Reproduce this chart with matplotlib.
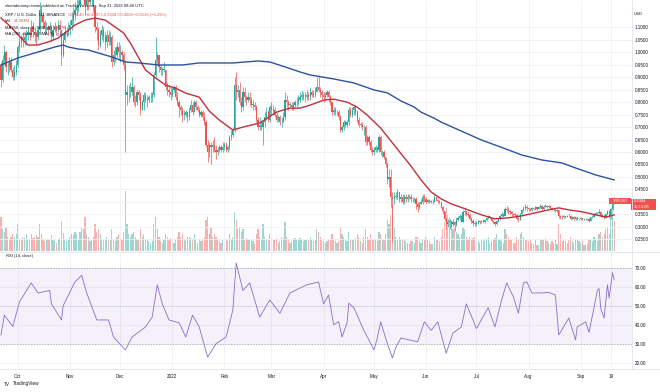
import numpy as np
import pandas as pd
import matplotlib
matplotlib.use("Agg")
import matplotlib.pyplot as plt
from matplotlib.patches import Rectangle

# XRP / U.S. Dollar, 1D candles, 2021-09-20 .. 2022-09-21
first_open = 1.06
close = [
    # Sep 2021 (20th ..)
    0.95, 0.89, 0.97, 1.00, 0.94, 0.94, 0.96, 0.93, 0.90, 0.92, 0.95,
    # Oct
    1.02, 1.04, 1.06, 1.05, 1.06, 1.07, 1.08, 1.07, 1.10, 1.08, 1.07, 1.06, 1.09, 1.17, 1.15, 1.12,
    1.10, 1.10, 1.09, 1.10, 1.06, 1.09, 1.10, 1.09, 1.11, 1.09, 0.99, 1.05, 1.08, 1.08, 1.09,
    # Nov
    1.11, 1.13, 1.15, 1.17, 1.18, 1.19, 1.24, 1.27, 1.25, 1.19, 1.22, 1.20, 1.21, 1.21, 1.18,
    1.10, 1.09, 1.03, 1.07, 1.09, 1.06, 1.04, 1.07, 1.04, 1.06, 0.96, 0.99, 0.99, 1.02, 1.00,
    # Dec
    1.00, 0.99, 0.95, 0.83, 0.84, 0.84, 0.84, 0.86, 0.80, 0.80, 0.84, 0.83, 0.77, 0.80, 0.83, 0.81,
    0.81, 0.82, 0.82, 0.83, 0.91, 0.97, 0.99, 0.94, 0.93, 0.93, 0.93, 0.86, 0.85, 0.84, 0.83,
    # Jan 2022
    0.85, 0.86, 0.82, 0.80, 0.78, 0.77, 0.75, 0.75, 0.76, 0.74, 0.77, 0.79, 0.76, 0.80, 0.78, 0.77,
    0.75, 0.76, 0.74, 0.72, 0.63, 0.60, 0.63, 0.62, 0.63, 0.61, 0.60, 0.61, 0.62, 0.61, 0.62,
    # Feb
    0.63, 0.61, 0.62, 0.66, 0.67, 0.69, 0.87, 0.84, 0.85, 0.80, 0.78, 0.84, 0.82, 0.81,
    0.82, 0.81, 0.79, 0.79, 0.78, 0.73, 0.70, 0.71, 0.70, 0.72, 0.74, 0.76, 0.73, 0.78,
    # Mar
    0.77, 0.77, 0.75, 0.73, 0.74, 0.72, 0.72, 0.74, 0.81, 0.80, 0.79, 0.79, 0.78, 0.79, 0.80, 0.80,
    0.81, 0.82, 0.83, 0.82, 0.82, 0.83, 0.82, 0.84, 0.83, 0.83, 0.84, 0.86, 0.85, 0.84, 0.83,
    # Apr
    0.82, 0.83, 0.84, 0.82, 0.80, 0.76, 0.77, 0.76, 0.76, 0.74, 0.69, 0.70, 0.72, 0.71, 0.72,
    0.77, 0.75, 0.77, 0.78, 0.76, 0.73, 0.71, 0.71, 0.70, 0.70, 0.64, 0.66, 0.64, 0.61, 0.60,
    # May
    0.61, 0.62, 0.61, 0.66, 0.60, 0.60, 0.58, 0.55, 0.49, 0.50, 0.42, 0.41, 0.42, 0.42, 0.44, 0.41,
    0.42, 0.40, 0.42, 0.41, 0.42, 0.42, 0.41, 0.41, 0.41, 0.39, 0.38, 0.39, 0.40, 0.42, 0.41,
    # Jun
    0.398, 0.408, 0.402, 0.399, 0.401, 0.418, 0.409, 0.402, 0.398, 0.381, 0.362, 0.331, 0.312, 0.318, 0.322,
    0.312, 0.321, 0.309, 0.329, 0.334, 0.342, 0.321, 0.358, 0.362, 0.352, 0.348, 0.332, 0.322, 0.315, 0.312,
    # Jul
    0.314, 0.322, 0.318, 0.324, 0.320, 0.326, 0.334, 0.342, 0.335, 0.322, 0.318, 0.310, 0.322, 0.331, 0.342, 0.352,
    0.345, 0.372, 0.368, 0.362, 0.358, 0.352, 0.350, 0.348, 0.331, 0.329, 0.351, 0.368, 0.372, 0.381, 0.375,
    # Aug
    0.372, 0.368, 0.374, 0.370, 0.378, 0.372, 0.380, 0.384, 0.371, 0.381, 0.385, 0.380, 0.383, 0.375, 0.371, 0.369,
    0.362, 0.368, 0.345, 0.341, 0.338, 0.342, 0.340, 0.344, 0.343, 0.333, 0.339, 0.331, 0.338, 0.330, 0.332,
    # Sep
    0.334, 0.331, 0.331, 0.333, 0.331, 0.325, 0.338, 0.341, 0.352, 0.356, 0.354,
    0.361, 0.345, 0.346, 0.336, 0.352, 0.364, 0.343, 0.372, 0.414, 0.4004,
]
high = [
    1.07, 0.96, 0.99, 1.03, 1.01, 0.96, 0.98, 0.98, 0.94, 0.95, 0.97,
    1.03, 1.06, 1.07, 1.08, 1.08, 1.09, 1.10, 1.10, 1.13, 1.12, 1.10, 1.08, 1.10, 1.20, 1.18, 1.16,
    1.13, 1.12, 1.11, 1.12, 1.11, 1.11, 1.12, 1.11, 1.13, 1.13, 1.09, 1.07, 1.11, 1.10, 1.12,
    1.13, 1.16, 1.18, 1.20, 1.22, 1.21, 1.26, 1.30, 1.29, 1.35, 1.24, 1.23, 1.23, 1.24, 1.23,
    1.19, 1.12, 1.10, 1.09, 1.11, 1.10, 1.08, 1.09, 1.09, 1.08, 1.07, 1.01, 1.02, 1.04, 1.04,
    1.03, 1.01, 1.00, 0.97, 0.87, 0.87, 0.88, 0.90, 0.87, 0.83, 0.85, 0.85, 0.84, 0.81, 0.84, 0.84,
    0.83, 0.83, 0.84, 0.84, 0.92, 1.06, 1.00, 0.99, 0.95, 0.94, 0.96, 0.93, 0.88, 0.87, 0.86,
    0.86, 0.87, 0.87, 0.84, 0.81, 0.79, 0.78, 0.77, 0.77, 0.76, 0.78, 0.81, 0.80, 0.81, 0.81, 0.79,
    0.78, 0.77, 0.77, 0.76, 0.73, 0.65, 0.64, 0.64, 0.65, 0.66, 0.63, 0.62, 0.63, 0.63, 0.64,
    0.64, 0.64, 0.63, 0.67, 0.69, 0.70, 0.90, 0.92, 0.87, 0.88, 0.82, 0.86, 0.86, 0.83,
    0.84, 0.84, 0.82, 0.81, 0.80, 0.79, 0.74, 0.74, 0.73, 0.73, 0.76, 0.78, 0.77, 0.79,
    0.80, 0.79, 0.78, 0.76, 0.75, 0.75, 0.74, 0.76, 0.84, 0.83, 0.81, 0.80, 0.80, 0.80, 0.81, 0.82,
    0.83, 0.84, 0.85, 0.84, 0.84, 0.85, 0.84, 0.86, 0.85, 0.85, 0.86, 0.90, 0.91, 0.86, 0.85,
    0.84, 0.84, 0.85, 0.85, 0.83, 0.80, 0.78, 0.78, 0.77, 0.77, 0.75, 0.71, 0.73, 0.73, 0.73,
    0.78, 0.78, 0.78, 0.79, 0.79, 0.77, 0.74, 0.72, 0.72, 0.71, 0.71, 0.67, 0.67, 0.65, 0.62,
    0.62, 0.63, 0.62, 0.67, 0.67, 0.61, 0.61, 0.58, 0.56, 0.53, 0.53, 0.44, 0.44, 0.44, 0.45, 0.44,
    0.43, 0.43, 0.43, 0.43, 0.43, 0.43, 0.43, 0.42, 0.42, 0.42, 0.40, 0.40, 0.41, 0.43, 0.43,
    0.420, 0.412, 0.410, 0.408, 0.410, 0.428, 0.420, 0.412, 0.408, 0.400, 0.384, 0.365, 0.336, 0.330, 0.332,
    0.328, 0.330, 0.322, 0.338, 0.342, 0.350, 0.346, 0.368, 0.378, 0.365, 0.360, 0.356, 0.338, 0.330, 0.322,
    0.322, 0.328, 0.326, 0.328, 0.330, 0.332, 0.338, 0.348, 0.345, 0.336, 0.328, 0.322, 0.326, 0.335, 0.346, 0.358,
    0.356, 0.378, 0.382, 0.378, 0.368, 0.362, 0.356, 0.356, 0.350, 0.338, 0.356, 0.372, 0.382, 0.392, 0.386,
    0.378, 0.375, 0.378, 0.377, 0.384, 0.380, 0.385, 0.392, 0.386, 0.386, 0.392, 0.388, 0.388, 0.386, 0.378, 0.376,
    0.372, 0.372, 0.369, 0.348, 0.346, 0.346, 0.345, 0.349, 0.350, 0.348, 0.342, 0.342, 0.341, 0.341, 0.337,
    0.338, 0.337, 0.335, 0.336, 0.336, 0.334, 0.341, 0.346, 0.356, 0.360, 0.358,
    0.370, 0.365, 0.350, 0.348, 0.355, 0.368, 0.366, 0.376, 0.420, 0.4197,
]
low = [
    0.93, 0.86, 0.88, 0.95, 0.92, 0.91, 0.92, 0.92, 0.89, 0.89, 0.91,
    0.94, 1.00, 1.02, 1.02, 1.03, 1.03, 1.05, 1.05, 1.06, 1.06, 1.04, 1.03, 1.05, 1.08, 1.12, 1.10,
    1.07, 1.08, 1.07, 1.08, 1.04, 1.05, 1.08, 1.07, 1.08, 1.07, 0.95, 0.98, 1.04, 1.06, 1.07,
    1.07, 1.09, 1.11, 1.13, 1.15, 1.16, 1.18, 1.22, 1.21, 1.15, 1.17, 1.17, 1.19, 1.19, 1.16,
    1.08, 1.05, 1.01, 1.02, 1.05, 1.04, 1.01, 1.02, 1.03, 1.03, 0.94, 0.95, 0.96, 0.98, 0.97,
    0.96, 0.97, 0.93, 0.60, 0.79, 0.80, 0.82, 0.83, 0.79, 0.78, 0.79, 0.81, 0.75, 0.77, 0.77, 0.80,
    0.78, 0.80, 0.80, 0.80, 0.82, 0.90, 0.95, 0.92, 0.91, 0.91, 0.92, 0.85, 0.83, 0.82, 0.81,
    0.82, 0.84, 0.81, 0.79, 0.74, 0.75, 0.72, 0.73, 0.74, 0.72, 0.73, 0.76, 0.75, 0.76, 0.77, 0.76,
    0.74, 0.74, 0.73, 0.71, 0.62, 0.56, 0.58, 0.55, 0.60, 0.60, 0.57, 0.59, 0.60, 0.60, 0.60,
    0.61, 0.60, 0.60, 0.61, 0.65, 0.66, 0.68, 0.81, 0.82, 0.79, 0.76, 0.77, 0.80, 0.79,
    0.80, 0.79, 0.78, 0.77, 0.77, 0.72, 0.69, 0.69, 0.69, 0.63, 0.70, 0.73, 0.72, 0.72,
    0.75, 0.75, 0.74, 0.72, 0.72, 0.71, 0.70, 0.72, 0.73, 0.78, 0.77, 0.78, 0.77, 0.77, 0.78, 0.78,
    0.79, 0.80, 0.81, 0.81, 0.80, 0.81, 0.81, 0.81, 0.82, 0.82, 0.82, 0.84, 0.84, 0.82, 0.81,
    0.80, 0.81, 0.82, 0.80, 0.79, 0.75, 0.75, 0.75, 0.75, 0.73, 0.68, 0.68, 0.69, 0.70, 0.70,
    0.71, 0.74, 0.74, 0.75, 0.75, 0.72, 0.70, 0.70, 0.69, 0.67, 0.63, 0.63, 0.63, 0.60, 0.59,
    0.59, 0.60, 0.60, 0.60, 0.59, 0.58, 0.57, 0.54, 0.47, 0.46, 0.38, 0.24, 0.39, 0.41, 0.41, 0.40,
    0.40, 0.39, 0.39, 0.40, 0.40, 0.41, 0.40, 0.40, 0.40, 0.37, 0.36, 0.37, 0.39, 0.39, 0.40,
    0.392, 0.396, 0.395, 0.394, 0.393, 0.398, 0.402, 0.395, 0.391, 0.376, 0.352, 0.322, 0.290, 0.300, 0.292,
    0.301, 0.305, 0.285, 0.305, 0.322, 0.328, 0.318, 0.318, 0.348, 0.342, 0.340, 0.328, 0.315, 0.305, 0.303,
    0.302, 0.310, 0.312, 0.314, 0.314, 0.316, 0.322, 0.330, 0.330, 0.318, 0.312, 0.302, 0.306, 0.320, 0.328, 0.338,
    0.340, 0.342, 0.358, 0.352, 0.350, 0.345, 0.344, 0.342, 0.326, 0.320, 0.326, 0.348, 0.362, 0.368, 0.365,
    0.364, 0.362, 0.365, 0.366, 0.368, 0.369, 0.371, 0.376, 0.368, 0.368, 0.378, 0.376, 0.377, 0.372, 0.366, 0.364,
    0.358, 0.360, 0.337, 0.333, 0.332, 0.335, 0.334, 0.338, 0.339, 0.328, 0.330, 0.327, 0.329, 0.326, 0.327,
    0.326, 0.327, 0.327, 0.328, 0.327, 0.320, 0.322, 0.334, 0.338, 0.348, 0.349,
    0.352, 0.340, 0.338, 0.330, 0.334, 0.349, 0.334, 0.332, 0.368, 0.3934,
]
volume = [  # millions
    30, 28, 18, 16, 20, 12, 10, 12, 14, 12, 14,
    22, 10, 9, 12, 11, 14, 10, 9, 14, 11, 12, 13, 12, 22, 14, 10, 8, 9, 10, 9, 13, 9, 8, 7, 9, 11, 24, 15, 10, 8, 9,
    12, 14, 13, 16, 14, 10, 16, 20, 18, 28, 14, 12, 8, 9, 12, 22, 16, 18, 14, 10, 9, 10, 12, 10, 9, 18, 10, 8, 12, 14,
    12, 10, 16, 50, 22, 14, 12, 14, 16, 12, 10, 9, 18, 12, 14, 10, 9, 8, 7, 8, 22, 28, 18, 12, 8, 7, 9, 14, 12, 10, 11,
    8, 7, 10, 12, 16, 12, 14, 10, 8, 12, 12, 11, 10, 14, 9, 7, 10, 8, 10, 12, 26, 28, 14, 20, 12, 14, 12, 10, 8, 7, 9,
    8, 9, 8, 14, 10, 12, 32, 26, 18, 20, 16, 18, 10, 11, 10, 9, 10, 8, 6, 14, 18, 12, 10, 22, 12, 10, 9, 14,
    12, 10, 9, 11, 7, 8, 12, 11, 24, 12, 10, 7, 8, 10, 11, 10, 9, 11, 10, 8, 9, 10, 9, 12, 10, 8, 9, 18, 16, 12, 10,
    8, 7, 8, 10, 9, 14, 10, 8, 7, 8, 20, 14, 12, 9, 8, 16, 10, 9, 10, 11, 14, 12, 8, 7, 12, 18, 12, 10, 14, 10,
    10, 9, 8, 16, 14, 10, 9, 14, 26, 22, 30, 38, 20, 12, 10, 12, 9, 10, 9, 8, 7, 6, 8, 8, 7, 12, 12, 8, 7, 10, 9,
    12, 10, 8, 6, 6, 12, 10, 9, 8, 12, 18, 24, 36, 30, 28, 24, 18, 20, 16, 14, 12, 14, 20, 18, 12, 10, 12, 10, 11, 12,
    12, 8, 7, 9, 10, 8, 11, 12, 7, 8, 10, 11, 14, 10, 10, 8, 7, 18, 14, 12, 10, 9, 7, 7, 12, 10, 14, 16, 12, 10, 9,
    8, 9, 7, 6, 9, 5, 5, 10, 9, 10, 11, 8, 7, 6, 8, 7, 9, 6, 22, 14, 8, 9, 8, 7, 9, 12, 8, 7, 10, 9, 8,
    7, 8, 5, 5, 6, 10, 9, 8, 12, 10, 8, 14, 16, 12, 14, 18, 20, 14, 32, 36, 25,
]

ma50_dates = ["2021-09-21", "2021-09-27", "2021-10-03", "2021-10-07", "2021-10-13", "2021-10-19", "2021-10-25",
              "2021-10-29", "2021-11-04", "2021-11-10", "2021-11-16", "2021-11-22", "2021-11-28", "2021-12-03",
              "2021-12-07", "2021-12-12", "2021-12-16", "2021-12-22", "2021-12-28", "2022-01-03", "2022-01-09",
              "2022-01-17", "2022-01-23", "2022-01-29", "2022-02-06", "2022-02-12", "2022-02-22", "2022-03-04",
              "2022-03-12", "2022-03-18", "2022-03-24", "2022-04-01", "2022-04-07", "2022-04-15", "2022-04-21",
              "2022-04-27", "2022-05-05", "2022-05-13", "2022-05-23", "2022-05-29", "2022-06-04", "2022-06-10",
              "2022-06-16", "2022-06-26", "2022-07-04", "2022-07-12", "2022-07-20", "2022-07-28", "2022-08-05",
              "2022-08-13", "2022-08-19", "2022-08-25", "2022-09-02", "2022-09-10", "2022-09-16", "2022-09-21"]
ma50 = [1.137, 1.101, 1.057, 1.029, 1.029, 1.041, 1.057, 1.077, 1.109, 1.129, 1.137, 1.129, 1.101, 1.077,
        1.037, 0.977, 0.929, 0.897, 0.868, 0.856, 0.836, 0.820, 0.764, 0.728, 0.688, 0.700, 0.716, 0.760,
        0.776, 0.776, 0.788, 0.808, 0.812, 0.800, 0.780, 0.748, 0.696, 0.628, 0.544, 0.488, 0.440, 0.412,
        0.392, 0.368, 0.348, 0.332, 0.336, 0.344, 0.356, 0.368, 0.376, 0.368, 0.360, 0.348, 0.339, 0.348]

ma200_dates = ["2021-09-21", "2021-10-01", "2021-10-13", "2021-10-23", "2021-10-28", "2021-10-31", "2021-11-06",
               "2021-11-12", "2021-11-18", "2021-11-26", "2021-12-04", "2021-12-12", "2021-12-24", "2022-01-07",
               "2022-01-17", "2022-01-29", "2022-02-06", "2022-02-21", "2022-02-28", "2022-03-11", "2022-03-18",
               "2022-03-24", "2022-04-07", "2022-04-19", "2022-05-01", "2022-05-09", "2022-05-17", "2022-05-25",
               "2022-05-29", "2022-06-06", "2022-06-10", "2022-06-20", "2022-07-04", "2022-07-17", "2022-07-28",
               "2022-08-09", "2022-08-21", "2022-08-29", "2022-09-10", "2022-09-21"]
ma200 = [0.949, 0.977, 1.001, 1.021, 1.029, 1.021, 1.013, 1.009, 0.997, 0.981, 0.961, 0.957, 0.949, 0.949,
         0.957, 0.957, 0.957, 0.965, 0.961, 0.937, 0.921, 0.909, 0.893, 0.877, 0.849, 0.837, 0.805, 0.780,
         0.760, 0.735, 0.720, 0.690, 0.648, 0.616, 0.588, 0.568, 0.556, 0.536, 0.508, 0.488]

rsi_dates = ["2021-09-21", "2021-09-23", "2021-09-28", "2021-10-02", "2021-10-09", "2021-10-13", "2021-10-20",
             "2021-10-21", "2021-10-27", "2021-10-28", "2021-11-04", "2021-11-08", "2021-11-11", "2021-11-17",
             "2021-11-24", "2021-11-27", "2021-12-04", "2021-12-08", "2021-12-16", "2021-12-20", "2021-12-23",
             "2021-12-26", "2021-12-30", "2022-01-05", "2022-01-09", "2022-01-13", "2022-01-17", "2022-01-22",
             "2022-01-27", "2022-02-02", "2022-02-06", "2022-02-08", "2022-02-12", "2022-02-16", "2022-02-22",
             "2022-02-28", "2022-03-06", "2022-03-12", "2022-03-22", "2022-03-29", "2022-04-01", "2022-04-04",
             "2022-04-07", "2022-04-10", "2022-04-12", "2022-04-15", "2022-04-16", "2022-04-19", "2022-04-25",
             "2022-04-28", "2022-05-01", "2022-05-03", "2022-05-05", "2022-05-09", "2022-05-12", "2022-05-14",
             "2022-05-17", "2022-05-27", "2022-05-31", "2022-06-04", "2022-06-08", "2022-06-13", "2022-06-17",
             "2022-06-22", "2022-06-25", "2022-07-01", "2022-07-08", "2022-07-12", "2022-07-16", "2022-07-19",
             "2022-07-23", "2022-07-26", "2022-07-29", "2022-07-31", "2022-08-03", "2022-08-09", "2022-08-13",
             "2022-08-17", "2022-08-19", "2022-08-25", "2022-08-29", "2022-08-30", "2022-09-04", "2022-09-06",
             "2022-09-09", "2022-09-11", "2022-09-12", "2022-09-13", "2022-09-15", "2022-09-17", "2022-09-18",
             "2022-09-20", "2022-09-21"]
rsi = [34.6, 45.0, 39.0, 52.0, 62.0, 56.7, 58.0, 51.0, 42.5, 50.0, 62.5, 66.0, 56.7, 42.5, 42.5, 33.5,
       26.7, 33.5, 38.8, 44.0, 61.0, 51.0, 42.5, 41.0, 33.5, 45.0, 38.8, 23.0, 30.0, 33.5, 47.7, 72.5,
       58.0, 62.0, 44.0, 53.0, 46.0, 56.7, 61.0, 62.5, 51.0, 55.6, 40.0, 41.6, 33.5, 41.0, 51.3, 49.0,
       37.0, 32.0, 26.7, 33.0, 41.5, 30.0, 22.5, 28.0, 33.0, 31.0, 41.5, 37.0, 41.5, 25.0, 35.6, 38.8,
       51.0, 38.0, 49.0, 38.8, 53.0, 62.0, 54.6, 46.0, 62.0, 62.5, 56.7, 56.7, 57.0, 55.6, 34.6, 43.5,
       32.0, 38.8, 41.5, 36.0, 49.0, 58.0, 59.0, 48.6, 43.5, 61.0, 54.0, 67.4, 63.6]

month_ticks = ["2021-10-01", "2021-11-01", "2021-12-01", "2022-01-01", "2022-02-01", "2022-03-01",
               "2022-04-01", "2022-05-01", "2022-06-01", "2022-07-01", "2022-08-01", "2022-09-01", "2022-09-19"]
month_labels = ["Oct", "Nov", "Dec", "2022", "Feb", "Mar", "Apr", "May", "Jun", "Jul", "Aug", "Sep", "19"]
price_ticks = np.round(np.arange(0.25, 1.1001, 0.05), 2)
rsi_ticks = [20, 30, 40, 50, 60, 70]

n = len(close)
for name, arr in [("high", high), ("low", low), ("volume", volume)]:
    if len(arr) != n:
        raise ValueError(f"{name} has {len(arr)} values, close has {n}")

UP, DN = "#26a69a", "#ef5350"
DARK = "#131722"
RED_MA, BLUE_MA = "#c0303a", "#2c52a0"
plt.rcParams["font.family"] = ["Liberation Sans", "DejaVu Sans"]

W, H = 660, 392


def box(x0, y0, x1, y1):
    return [x0 / W, 1 - y1 / H, (x1 - x0) / W, (y1 - y0) / H]


dates = pd.date_range("2021-09-20", periods=n, freq="D")
c = np.array(close)
o = np.r_[first_open, c[:-1]]
hi = np.maximum.reduce([np.array(high), o, c])
lo = np.minimum.reduce([np.array(low), o, c])
col = np.where(c >= o, UP, DN)

fig = plt.figure(figsize=(W / 100, H / 100), dpi=100)
fig.patch.set_facecolor("white")

ax_vol = fig.add_axes(box(0, 0, 632, 251))
ax = fig.add_axes(box(0, 0, 632, 251), sharex=ax_vol)
ax_rsi = fig.add_axes(box(0, 252, 632, 368), sharex=ax)
ax.set_facecolor("none")

# volume sits behind the candles
ax_vol.bar(dates, volume, width=0.7, color=col, alpha=0.45, linewidth=0)
ax_vol.set_ylim(0, 208)
ax_vol.axis("off")

# candles + moving averages
ax.vlines(dates, lo, hi, colors=col, linewidth=0.5)
ax.bar(dates, np.maximum(np.abs(c - o), 0.002), bottom=np.minimum(o, c), width=0.7,
       color=col, linewidth=0)
ax.plot(pd.to_datetime(ma50_dates), ma50, color=RED_MA, lw=1.0)
ax.plot(pd.to_datetime(ma200_dates), ma200, color=BLUE_MA, lw=1.0)

t0 = pd.Timestamp("2021-10-01")
ax.set_xlim(t0 - pd.Timedelta(days=10.6), t0 + pd.Timedelta(days=365.6))
ax.set_ylim(0.2031, 1.2095)

for a in (ax, ax_rsi):
    a.set_xticks(pd.to_datetime(month_ticks))
    a.grid(True, color="#eef0f5", lw=0.6)
    a.set_axisbelow(True)
    a.yaxis.tick_right()
    a.tick_params(length=0, labelsize=3.3, labelcolor=DARK, pad=2.2)
    for s in a.spines.values():
        s.set_visible(False)

ax.set_yticks(price_ticks)
# 0.4000 sits under the last-price box
ax.set_yticklabels(["" if abs(v - 0.40) < 1e-9 else f"{v:.4f}" for v in price_ticks])
ax.tick_params(labelbottom=False)

# RSI panel
ax_rsi.axhspan(30, 70, color="#7e57c2", alpha=0.08, lw=0)
for lvl, a_ in [(70, 0.9), (50, 0.5), (30, 0.9)]:
    ax_rsi.axhline(lvl, color="#9598a1", lw=0.5, ls=(0, (2, 2)), alpha=a_)
ax_rsi.plot(pd.to_datetime(rsi_dates), rsi, color="#8a6cc8", lw=0.6)
ax_rsi.set_ylim(17.21, 78.26)
ax_rsi.set_yticks(rsi_ticks)
ax_rsi.set_yticklabels([f"{v:.2f}" for v in rsi_ticks])
ax_rsi.set_xticklabels(month_labels)
ax_rsi.tick_params(axis="x", pad=4.5)

# panel borders
for y in (251.5, 368.5):
    fig.add_artist(plt.Line2D([0, 1], [1 - y / H] * 2, color="#e0e3eb", lw=0.6))
fig.add_artist(plt.Line2D([632 / W] * 2, [1 - 368.5 / H, 1], color="#e0e3eb", lw=0.6))


def chain(x, y, parts, size=3.0):
    # pieces of one legend row, each placed right after the previous one
    prev = fig.text(x / W, 1 - y / H, parts[0][0], color=parts[0][1], fontsize=size,
                    ha="left", va="center")
    for s, colr in parts[1:]:
        prev = ax.annotate(s, xy=(1, 0.5), xycoords=prev, xytext=(2.0, 0),
                           textcoords="offset points", ha="left", va="center",
                           color=colr, fontsize=size, annotation_clip=False)
    return prev


chain(5, 5.7, [("sleetabotomp-rame published on TradingView.com, Sep 21, 2022 08:46 UTC", DARK)])
chain(5, 15, [("XRP / U.S. Dollar, 1D, BINANCE", DARK),
              ("O0.4140 H0.4197 L0.3934 C0.4004 \u22120.0136 (\u22123.29%)", DN)])
chain(5, 21.5, [("Vol", DARK), ("24.904M", DN)])
chain(5, 28, [("MA (50, close, 0, SMA, 9)", DARK), ("0.3476", RED_MA)])
chain(5, 34.5, [("MA (200, close, 0, SMA, 9)", DARK), ("0.4879", BLUE_MA)])
chain(6, 255.5, [("RSI (14, close)", DARK), ("62.16", "#7e57c2")])

fig.text(634 / W, 1 - 14 / H, "USD", fontsize=3.0, color=DARK, ha="left", va="center")

# last price labels
fig.add_artist(Rectangle((609 / W, 1 - 204.5 / H), 22 / W, 6 / H, color=DN, lw=0))
fig.text(620 / W, 1 - 201.5 / H, "XRPUSD", fontsize=2.6, color="white", ha="center", va="center")
fig.add_artist(Rectangle((631 / W, 1 - 209.5 / H), 25 / W, 11 / H, color=DN, lw=0))
fig.text(634 / W, 1 - 201.5 / H, "0.4004", fontsize=3.0, color="white", ha="left", va="center")
fig.text(634 / W, 1 - 206.8 / H, "15:13:05", fontsize=3.0, color="white", ha="left", va="center")

# TradingView mark
chain(4, 384, [("TV", DARK), ("TradingView", DARK)], 3.4)

fig.savefig("out.png", dpi=100, facecolor="white")
